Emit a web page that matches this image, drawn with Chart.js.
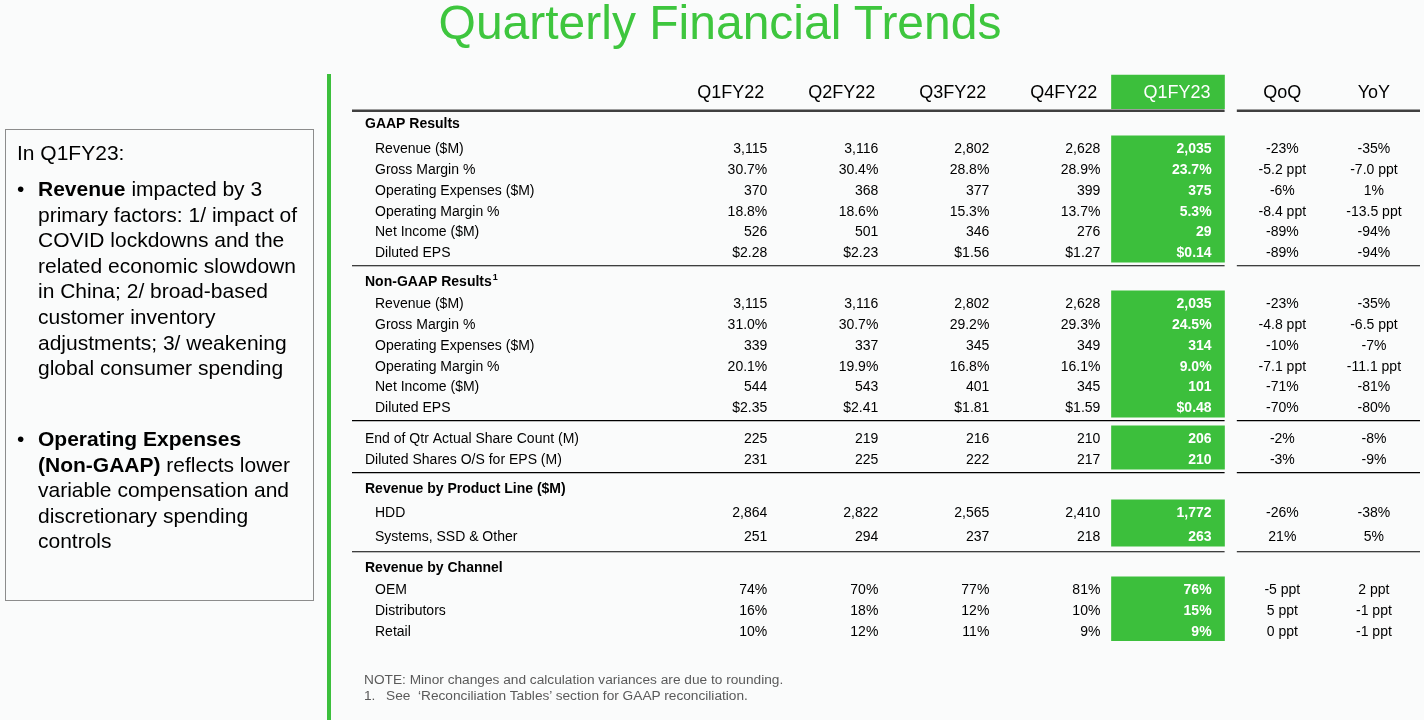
<!DOCTYPE html>
<html>
<head>
<meta charset="utf-8">
<title>Quarterly Financial Trends</title>
<script src="https://cdn.jsdelivr.net/npm/chart.js@4.4.1/dist/chart.umd.min.js"></script>
<style>
  html, body { margin: 0; padding: 0; }
  body { width: 1424px; height: 720px; position: relative; overflow: hidden; background: #fafbfb; font-family: "Liberation Sans", Arial, sans-serif; color: #000; }
  #chart { position: absolute; left: 0; top: 0; }
  .title { position: absolute; left: 8px; width: 1424px; top: -1px; text-align: center; font-size: 48px; line-height: 48px; color: #3ec63e; }
  .side-line { position: absolute; left: 327px; top: 74px; width: 4px; height: 646px; background: #3cbf3c; }
  .box { position: absolute; left: 5px; top: 129px; width: 307px; height: 470px; border: 1px solid #8c8c8c; }
  .txt { position: absolute; font-size: 21px; line-height: 25.6px; white-space: nowrap; }
  .dot { position: absolute; left: 17px; font-size: 21px; line-height: 25.6px; }
  .note { position: absolute; left: 364px; font-size: 13.7px; line-height: 16px; color: #5a5a5a; white-space: nowrap; }
  .note .n { display: inline-block; width: 22px; }
</style>
</head>
<body>
<canvas id="chart" width="1424" height="720"></canvas>
<div class="title">Quarterly Financial Trends</div>
<div class="side-line"></div>
<div class="box"></div>
<div class="txt" style="left:17px; top:140px;">In Q1FY23:</div>
<div class="dot" style="top:176px;">•</div>
<div class="txt" style="left:38px; top:176px;"><b>Revenue</b> impacted by 3<br>primary factors: 1/ impact of<br>COVID lockdowns and the<br>related economic slowdown<br>in China; 2/ broad-based<br>customer inventory<br>adjustments; 3/ weakening<br>global consumer spending</div>
<div class="dot" style="top:426px;">•</div>
<div class="txt" style="left:38px; top:426px;"><b>Operating Expenses<br>(Non-GAAP)</b> reflects lower<br>variable compensation and<br>discretionary spending<br>controls</div>
<div class="note" style="top:672px;">NOTE: Minor changes and calculation variances are due to rounding.</div>
<div class="note" style="top:688px;"><span class="n">1.</span>See &nbsp;‘Reconciliation Tables’ section for GAAP reconciliation.</div>
<script>
// column headings
const quarters = ['Q1FY22', 'Q2FY22', 'Q3FY22', 'Q4FY22', 'Q1FY23'];
const changes = ['QoQ', 'YoY'];

// each row: Q1FY22..Q1FY23, QoQ, YoY
const gaapLabels = ['Revenue ($M)', 'Gross Margin %', 'Operating Expenses ($M)', 'Operating Margin %', 'Net Income ($M)', 'Diluted EPS'];
const gaapValues = [
  ['3,115', '3,116', '2,802', '2,628', '2,035', '-23%', '-35%'],
  ['30.7%', '30.4%', '28.8%', '28.9%', '23.7%', '-5.2 ppt', '-7.0 ppt'],
  ['370', '368', '377', '399', '375', '-6%', '1%'],
  ['18.8%', '18.6%', '15.3%', '13.7%', '5.3%', '-8.4 ppt', '-13.5 ppt'],
  ['526', '501', '346', '276', '29', '-89%', '-94%'],
  ['$2.28', '$2.23', '$1.56', '$1.27', '$0.14', '-89%', '-94%']
];
const nonGaapLabels = ['Revenue ($M)', 'Gross Margin %', 'Operating Expenses ($M)', 'Operating Margin %', 'Net Income ($M)', 'Diluted EPS'];
const nonGaapValues = [
  ['3,115', '3,116', '2,802', '2,628', '2,035', '-23%', '-35%'],
  ['31.0%', '30.7%', '29.2%', '29.3%', '24.5%', '-4.8 ppt', '-6.5 ppt'],
  ['339', '337', '345', '349', '314', '-10%', '-7%'],
  ['20.1%', '19.9%', '16.8%', '16.1%', '9.0%', '-7.1 ppt', '-11.1 ppt'],
  ['544', '543', '401', '345', '101', '-71%', '-81%'],
  ['$2.35', '$2.41', '$1.81', '$1.59', '$0.48', '-70%', '-80%']
];
const shareLabels = ['End of Qtr Actual Share Count (M)', 'Diluted Shares O/S for EPS (M)'];
const shareValues = [
  ['225', '219', '216', '210', '206', '-2%', '-8%'],
  ['231', '225', '222', '217', '210', '-3%', '-9%']
];
const productLabels = ['HDD', 'Systems, SSD & Other'];
const productValues = [
  ['2,864', '2,822', '2,565', '2,410', '1,772', '-26%', '-38%'],
  ['251', '294', '237', '218', '263', '21%', '5%']
];
const channelLabels = ['OEM', 'Distributors', 'Retail'];
const channelValues = [
  ['74%', '70%', '77%', '81%', '76%', '-5 ppt', '2 ppt'],
  ['16%', '18%', '12%', '10%', '15%', '5 ppt', '-1 ppt'],
  ['10%', '12%', '11%', '9%', '9%', '0 ppt', '-1 ppt']
];

const green = '#3cbf3c';
const fontFamily = '"Liberation Sans", Arial, sans-serif';

// column widths in x-scale units: label, 4 quarters, highlighted quarter, gap, QoQ, YoY
const colWidths = [2.84, 1, 1, 1, 1, 1.02, 0.11, 0.82, 0.83];
const edges = [0];
colWidths.forEach(w => edges.push(edges[edges.length - 1] + w));
const hiCol = 5;

// row spacing in y-scale units (header row sits at 0)
const groups = [
  { title: 'GAAP Results', sup: '', labels: gaapLabels, values: gaapValues, gap: 1.45, first: 1.2, step: 1 },
  { title: 'Non-GAAP Results', sup: '1', labels: nonGaapLabels, values: nonGaapValues, gap: 1.4, first: 1.05, step: 1 },
  { title: '', sup: '', labels: shareLabels, values: shareValues, gap: 1.5, first: 0, step: 1 },
  { title: 'Revenue by Product Line ($M)', sup: '', labels: productLabels, values: productValues, gap: 1.4, first: 1.15, step: 1.15 },
  { title: 'Revenue by Channel', sup: '', labels: channelLabels, values: channelValues, gap: 1.5, first: 1.05, step: 1 }
];
let pos = 0;
groups.forEach(g => {
  pos += g.gap;
  g.titleY = pos;
  if (g.title) pos += g.first;
  g.rowY = g.labels.map((l, i) => pos + i * g.step);
  pos = g.rowY[g.rowY.length - 1];
});

// green highlight cells for the Q1FY23 column
const hiX = (edges[hiCol] + edges[hiCol + 1]) / 2;
const highlight = [{ x: hiX, y: [-0.85, 0.77] }].concat(
  groups.map(g => ({ x: hiX, y: [g.rowY[0] - 0.58, g.rowY[g.rowY.length - 1] + 0.5] }))
);

const tablePlugin = {
  id: 'tableText',
  afterDatasetsDraw(chart) {
    const { ctx, scales: { x, y } } = chart;
    const px = v => x.getPixelForValue(v);
    const py = v => y.getPixelForValue(v);
    const tableLeft = px(0);
    const nudge = 1.5; // canvas 'middle' sits a bit high for 14px text

    const rule = (yy, w, color) => {
      ctx.strokeStyle = color;
      ctx.lineWidth = w;
      ctx.beginPath();
      ctx.moveTo(tableLeft, yy); ctx.lineTo(px(edges[hiCol + 1]), yy);
      ctx.moveTo(px(edges[7]), yy); ctx.lineTo(px(edges[9]), yy);
      ctx.stroke();
    };
    const cell = (j, text, yy, headerRow) => {
      if (j < 5) {
        const col = j + 1;
        ctx.textAlign = 'right';
        ctx.fillStyle = col === hiCol ? '#fff' : '#000';
        if (!headerRow) ctx.font = (col === hiCol ? 'bold ' : '') + '14px ' + fontFamily;
        ctx.fillText(text, px(edges[col + 1]) - (headerRow ? 14 : (col === hiCol ? 13 : 11)), yy);
      } else {
        const col = j + 2;
        ctx.textAlign = 'center';
        ctx.fillStyle = '#000';
        if (!headerRow) ctx.font = '14px ' + fontFamily;
        ctx.fillText(text, (px(edges[col]) + px(edges[col + 1])) / 2, yy);
      }
    };

    ctx.save();
    ctx.textBaseline = 'middle';

    // header row
    ctx.font = '18px ' + fontFamily;
    quarters.concat(changes).forEach((h, j) => cell(j, h, py(0), true));
    rule(py(0.865), 2.5, '#404040');

    groups.forEach((g, gi) => {
      if (g.title) {
        const ty = py(g.titleY) + nudge;
        ctx.font = 'bold 14px ' + fontFamily;
        ctx.textAlign = 'left';
        ctx.fillStyle = '#000';
        ctx.fillText(g.title, tableLeft + 13, ty);
        if (g.sup) {
          const w = ctx.measureText(g.title).width;
          ctx.font = 'bold 9px ' + fontFamily;
          ctx.fillText(g.sup, tableLeft + 14 + w, ty - 5);
        }
      }
      g.labels.forEach((label, i) => {
        const yy = py(g.rowY[i]) + nudge;
        ctx.font = '14px ' + fontFamily;
        ctx.textAlign = 'left';
        ctx.fillStyle = '#000';
        ctx.fillText(label, tableLeft + (g.title ? 23 : 13), yy);
        g.values[i].forEach((v, j) => cell(j, v, yy, false));
      });
      if (gi < groups.length - 1) {
        rule(py(g.rowY[g.rowY.length - 1] + 0.67 * g.step), 1.2, '#000');
      }
    });
    ctx.restore();
  }
};

new Chart(document.getElementById('chart'), {
  type: 'bar',
  data: {
    datasets: [{
      data: highlight,
      backgroundColor: green,
      borderWidth: 0,
      barThickness: 113
    }]
  },
  options: {
    responsive: false,
    animation: false,
    devicePixelRatio: 1,
    layout: { padding: { left: 352, right: 4, top: 65.66, bottom: 65.7 } },
    scales: {
      x: { type: 'linear', offset: false, min: 0, max: edges[edges.length - 1], display: false },
      y: { type: 'linear', min: -1.3, max: 27, reverse: true, display: false }
    },
    plugins: { legend: { display: false }, tooltip: { enabled: false } }
  },
  plugins: [tablePlugin]
});
</script>
</body>
</html>
